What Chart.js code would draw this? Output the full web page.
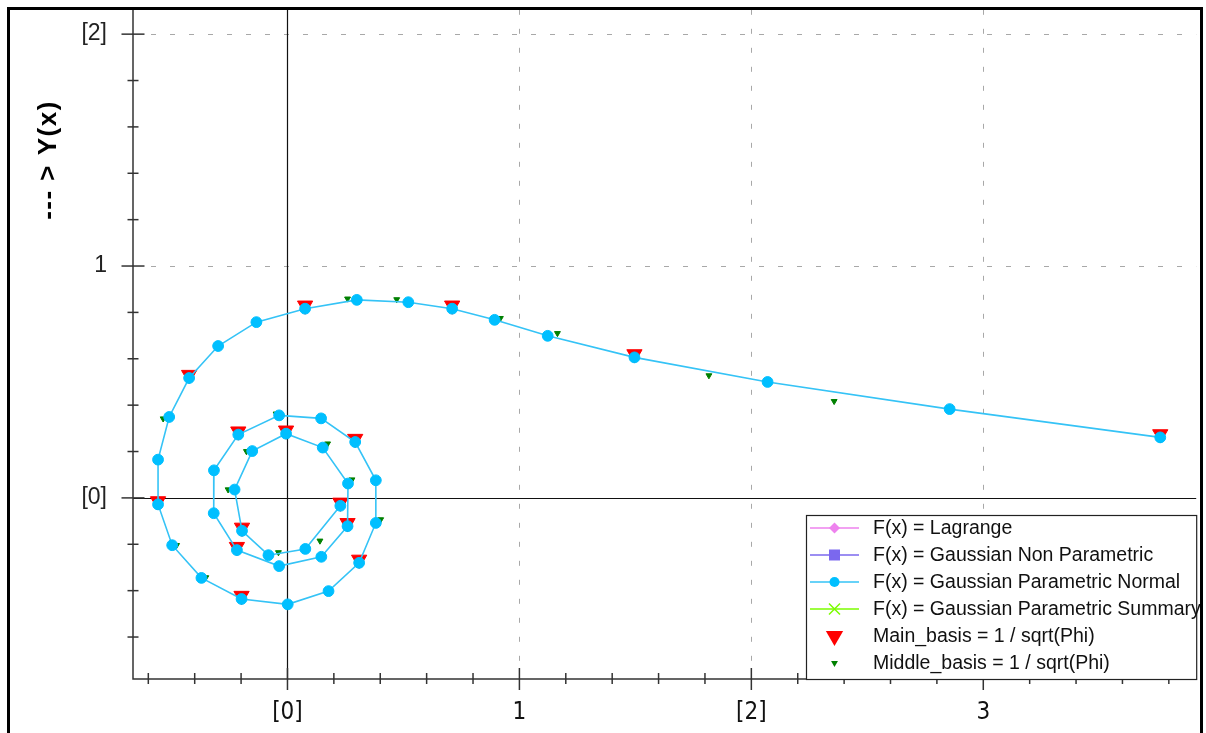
<!DOCTYPE html>
<html>
<head>
<meta charset="utf-8" />
<title>Spiral interpolation</title>
<script src="https://cdn.jsdelivr.net/npm/chart.js@4"></script>
<style>
  html, body { margin: 0; padding: 0; background: #fff; }
</style>
</head>
<body>
<canvas id="spiralCanvas" width="1206" height="733"></canvas>
<script>
// Gaussian Parametric Normal (blue line with points)
const normalX = [3.763, 2.855, 2.070, 1.496, 1.122, 0.893, 0.710, 0.521, 0.299, 0.076,
  -0.134, -0.299, -0.424, -0.510, -0.558, -0.558, -0.497, -0.371, -0.198, 0.001,
  0.177, 0.309, 0.381, 0.381, 0.292, 0.145, -0.036, -0.212, -0.317, -0.318,
  -0.218, -0.036, 0.146, 0.259, 0.261, 0.152, -0.006, -0.152, -0.228, -0.196,
  -0.082, 0.077, 0.228];
const normalY = [0.261, 0.383, 0.500, 0.606, 0.699, 0.768, 0.816, 0.844, 0.854, 0.816,
  0.758, 0.655, 0.517, 0.349, 0.165, -0.028, -0.204, -0.345, -0.436, -0.459,
  -0.402, -0.280, -0.108, 0.076, 0.241, 0.343, 0.356, 0.273, 0.119, -0.066,
  -0.225, -0.294, -0.254, -0.122, 0.062, 0.217, 0.277, 0.202, 0.036, -0.142,
  -0.247, -0.220, -0.034];

// Main_basis (red triangles)
const mainX = [3.763, 1.496, 0.710, 0.076, -0.424, -0.558, -0.198, 0.309,
  0.292, -0.212, -0.218, 0.259, -0.006, -0.196, 0.228];
const mainY = [0.275, 0.620, 0.830, 0.830, 0.531, -0.014, -0.422, -0.266,
  0.255, 0.287, -0.211, -0.108, 0.291, -0.128, -0.020];

// Middle_basis (small green triangles)
const middleX = [2.357, 1.817, 1.164, 0.918, 0.471, 0.259, -0.536, -0.478, -0.352,
  0.402, 0.149, -0.049, 0.278, 0.173, -0.177, -0.256, -0.039, 0.140];
const middleY = [0.417, 0.528, 0.710, 0.775, 0.856, 0.859, 0.342, -0.204, -0.343,
  -0.093, 0.352, 0.363, 0.079, 0.234, 0.201, 0.036, -0.235, -0.185];

const xTickValues = [0, 1, 2, 3];
const xTickLabels = ["[0]", "1", "[2]", "3"];
const yTickValues = [0, 1, 2];
const yTickLabels = ["[0]", "1", "[2]"];
const seriesLabels = [
  "F(x) = Lagrange",
  "F(x) = Gaussian Non Parametric",
  "F(x) = Gaussian Parametric Normal",
  "F(x) = Gaussian Parametric Summary",
  "Main_basis = 1 / sqrt(Phi)",
  "Middle_basis = 1 / sqrt(Phi)",
];
const yTitle = "--- > Y(x)";

function toPoints(xs, ys) {
  return xs.map((x, i) => ({ x: x, y: ys[i] }));
}

function drawMarker(ctx, style, r, color, x, y) {
  ctx.save();
  ctx.fillStyle = color;
  ctx.strokeStyle = color;
  ctx.lineWidth = 1.5;
  ctx.beginPath();
  if (style === "rectRot") {
    ctx.moveTo(x, y - r); ctx.lineTo(x + r, y); ctx.lineTo(x, y + r); ctx.lineTo(x - r, y);
    ctx.closePath(); ctx.fill();
  } else if (style === "rect") {
    ctx.rect(x - r, y - r, 2 * r, 2 * r); ctx.fill();
  } else if (style === "crossRot") {
    ctx.moveTo(x - r, y - r); ctx.lineTo(x + r, y + r);
    ctx.moveTo(x + r, y - r); ctx.lineTo(x - r, y + r); ctx.stroke();
  } else if (style === "triangle") {
    // pointing down, like the chart markers (rotation 180)
    const h = r * Math.sqrt(3) / 2;
    ctx.moveTo(x - h, y - r / 2); ctx.lineTo(x + h, y - r / 2); ctx.lineTo(x, y + r);
    ctx.closePath(); ctx.fill();
  } else {
    ctx.arc(x, y, r, 0, Math.PI * 2); ctx.fill();
  }
  ctx.restore();
}

const decorPlugin = {
  id: "decor",
  beforeDatasetsDraw(chart) {
    const { ctx, chartArea: a, scales: { x, y } } = chart;
    ctx.save();
    // dashed grid at integer values
    ctx.strokeStyle = "#a8a8a8";
    ctx.lineWidth = 1;
    ctx.setLineDash([5, 14]);
    xTickValues.forEach((v) => {
      if (v === 0) return;
      const px = Math.round(x.getPixelForValue(v)) + 0.5;
      ctx.beginPath(); ctx.moveTo(px, a.top); ctx.lineTo(px, a.bottom); ctx.stroke();
    });
    yTickValues.forEach((v) => {
      if (v === 0) return;
      const py = Math.round(y.getPixelForValue(v)) + 0.5;
      ctx.beginPath(); ctx.moveTo(a.left + 18, py); ctx.lineTo(a.right, py); ctx.stroke();
    });
    ctx.setLineDash([]);
    // zero lines
    ctx.strokeStyle = "#111";
    ctx.lineWidth = 1.2;
    const x0 = Math.round(x.getPixelForValue(0)) + 0.5;
    const y0 = Math.round(y.getPixelForValue(0)) + 0.5;
    ctx.beginPath(); ctx.moveTo(x0, a.top); ctx.lineTo(x0, a.bottom); ctx.stroke();
    ctx.beginPath(); ctx.moveTo(a.left, y0); ctx.lineTo(a.right, y0); ctx.stroke();
    // axes
    ctx.strokeStyle = "#333";
    ctx.lineWidth = 1.5;
    ctx.beginPath();
    ctx.moveTo(a.left, a.top); ctx.lineTo(a.left, a.bottom); ctx.lineTo(a.right, a.bottom);
    ctx.stroke();
    // tick marks, minor every 0.2
    for (let i = -3; i <= 10; i++) {
      const v = i / 5;
      const py = y.getPixelForValue(v);
      if (py < a.top || py > a.bottom) continue;
      const len = i % 5 === 0 ? 11.5 : 5.5;
      ctx.beginPath(); ctx.moveTo(a.left - len, py); ctx.lineTo(a.left + len, py); ctx.stroke();
    }
    for (let i = -3; i <= 19; i++) {
      const v = i / 5;
      const px = x.getPixelForValue(v);
      if (px < a.left + 2 || px > a.right) continue;
      const up = i % 5 === 0 ? 11 : 6;
      const down = i % 5 === 0 ? 11 : 5;
      ctx.beginPath(); ctx.moveTo(px, a.bottom - up); ctx.lineTo(px, a.bottom + down); ctx.stroke();
    }
    ctx.restore();
  },
  afterDatasetsDraw(chart) {
    const { ctx, chartArea: a } = chart;
    ctx.save();
    // legend box
    const bx = 806, by = 515;
    ctx.fillStyle = "#fff";
    ctx.fillRect(bx, by, a.right - bx, a.bottom - by);
    ctx.strokeStyle = "#222";
    ctx.lineWidth = 1.2;
    ctx.strokeRect(bx + 0.5, by + 0.5, a.right - bx, a.bottom - by);
    ctx.font = '19.5px "Liberation Sans", Arial, sans-serif';
    ctx.textBaseline = "middle";
    chart.data.datasets.forEach((ds, i) => {
      const ry = 528 + i * 27;
      if (ds.showLine) {
        ctx.strokeStyle = ds.borderColor;
        ctx.lineWidth = 1.5;
        ctx.beginPath(); ctx.moveTo(810, ry); ctx.lineTo(859, ry); ctx.stroke();
      }
      drawMarker(ctx, ds.pointStyle, ds.legendRadius, ds.pointBackgroundColor, 834.5, ry);
      ctx.fillStyle = "#111";
      ctx.fillText(ds.label, 873, ry + 1);
    });
    // y axis title
    ctx.translate(49, 160);
    ctx.rotate(-Math.PI / 2);
    ctx.font = 'bold 26px "Liberation Sans", Arial, sans-serif';
    ctx.letterSpacing = "1.5px";
    ctx.textAlign = "center";
    ctx.textBaseline = "middle";
    ctx.fillStyle = "#000";
    ctx.fillText(yTitle, 0, 0);
    ctx.restore();
    // outer frame
    ctx.save();
    ctx.strokeStyle = "#000";
    ctx.lineWidth = 3;
    ctx.strokeRect(8.5, 8.5, 1193, 740);
    ctx.restore();
  },
};

const ctx = document.getElementById("spiralCanvas").getContext("2d");
const spiralChart = new Chart(ctx, {
  type: "scatter",
  data: {
    datasets: [
      {
        label: seriesLabels[0], data: [], showLine: true,
        borderColor: "#ee82ee", pointBackgroundColor: "#ee82ee",
        pointStyle: "rectRot", pointRadius: 5, legendRadius: 5.5,
      },
      {
        label: seriesLabels[1], data: [], showLine: true,
        borderColor: "#7b68ee", pointBackgroundColor: "#7b68ee",
        pointStyle: "rect", pointRadius: 5, legendRadius: 5.5,
      },
      {
        label: seriesLabels[2], data: toPoints(normalX, normalY), showLine: true,
        borderColor: "#35c3f6", borderWidth: 1.6, tension: 0,
        pointBackgroundColor: "#00bfff", pointBorderColor: "#00bfff",
        pointBorderWidth: 1, pointStyle: "circle", pointRadius: 5.4, legendRadius: 5,
      },
      {
        label: seriesLabels[3], data: [], showLine: true,
        borderColor: "#7cfc00", pointBackgroundColor: "#7cfc00",
        pointStyle: "crossRot", pointRadius: 5, legendRadius: 5.5,
      },
      {
        label: seriesLabels[4], data: toPoints(mainX, mainY), showLine: false,
        pointBackgroundColor: "#ff0000", pointBorderColor: "#ff0000", pointBorderWidth: 1,
        pointStyle: "triangle", rotation: 180, pointRadius: 8.8, legendRadius: 10,
      },
      {
        label: seriesLabels[5], data: toPoints(middleX, middleY), showLine: false,
        pointBackgroundColor: "#008000", pointBorderColor: "#008000", pointBorderWidth: 1,
        pointStyle: "triangle", rotation: 180, pointRadius: 3.4, legendRadius: 4,
      },
    ],
  },
  options: {
    responsive: false,
    animation: false,
    devicePixelRatio: 1,
    layout: { padding: { top: 9, right: 6, left: 0, bottom: 0 } },
    plugins: { legend: { display: false }, tooltip: { enabled: false } },
    scales: {
      x: {
        type: "linear", min: -0.666, max: 3.918,
        grid: { display: false, drawTicks: false },
        border: { display: false },
        afterBuildTicks: (s) => { s.ticks = xTickValues.map((v) => ({ value: v })); },
        afterFit: (s) => { s.height = 54; s.paddingLeft = 0; s.paddingRight = 0; },
        ticks: {
          callback: (v, i) => xTickLabels[i],
          font: { family: '"Liberation Sans Narrow", "DejaVu Sans Condensed", "Arial Narrow", sans-serif', size: 24 },
          color: "#111", padding: 19, maxRotation: 0, autoSkip: false,
        },
      },
      y: {
        type: "linear", min: -0.781, max: 2.105,
        grid: { display: false, drawTicks: false },
        border: { display: false },
        afterBuildTicks: (s) => { s.ticks = yTickValues.map((v) => ({ value: v })); },
        afterFit: (s) => { s.width = 133; s.paddingTop = 0; s.paddingBottom = 0; },
        ticks: {
          callback: (v, i) => yTickLabels[i],
          font: { family: '"Liberation Sans", Arial, sans-serif', size: 23 },
          color: "#222", padding: 26, autoSkip: false,
        },
      },
    },
  },
  plugins: [decorPlugin],
});
</script>
</body>
</html>
